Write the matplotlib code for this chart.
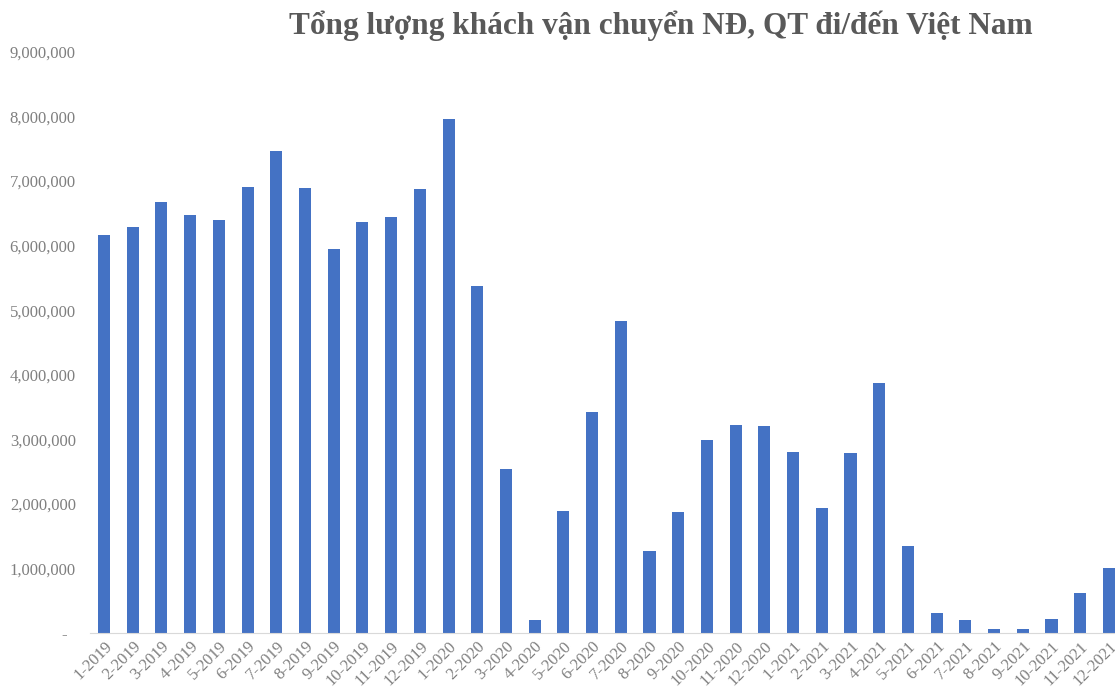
import matplotlib.pyplot as plt
import numpy as np

# Monthly passengers (domestic + international)
months = [f"{m}-{y}" for y in (2019, 2020, 2021) for m in range(1, 13)]
passengers = [
    6170000, 6290000, 6670000, 6480000, 6390000, 6910000,
    7460000, 6900000, 5950000, 6360000, 6450000, 6880000,
    7970000, 5380000, 2540000, 200000, 1890000, 3430000,
    4840000, 1270000, 1880000, 2990000, 3220000, 3210000,
    2810000, 1940000, 2790000, 3880000, 1350000, 310000,
    200000, 60000, 60000, 220000, 620000, 1010000,
]
yticks = np.arange(0, 9000001, 1000000)

plt.rcParams['font.family'] = ['Liberation Serif', 'DejaVu Serif']
grey = '#7f7f7f'

fig = plt.figure(figsize=(11.15, 6.89), dpi=100)
ax = fig.add_axes([0.0804, 0.0813, 0.927, 0.8432])

x = np.arange(len(months))
ax.bar(x, passengers, width=0.42, color='#4472C4')

ax.set_xlim(-0.5, len(months) - 0.5)
ax.set_ylim(0, 9000000)
ax.set_yticks(yticks)
ax.set_yticklabels(['-  '] + [f"{v:,.0f}" for v in yticks[1:]])
ax.set_xticks(x)
ax.set_xticklabels(months, rotation=45, ha='right', va='top',
                   rotation_mode='anchor')
ax.tick_params(axis='y', length=0, labelsize=12, labelcolor=grey, pad=10)
ax.tick_params(axis='x', length=0, labelsize=12, labelcolor=grey, pad=4)

for s in ('top', 'right', 'left'):
    ax.spines[s].set_visible(False)
ax.spines['bottom'].set_color('#d9d9d9')

fig.text(0.593, 0.963, 'Tổng lượng khách vận chuyển NĐ, QT đi/đến Việt Nam',
         ha='center', va='center', fontsize=22.5, fontweight='bold',
         color='#595959')

fig.savefig('out.png', dpi=100)
